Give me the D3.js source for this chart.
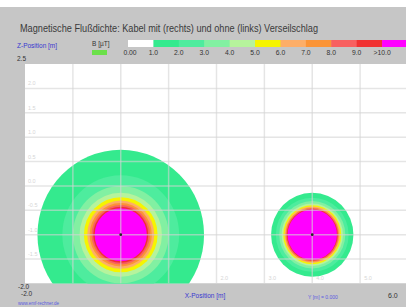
<!DOCTYPE html>
<html>
<head>
<meta charset="utf-8">
<script src="https://cdn.jsdelivr.net/npm/d3@7"></script>
<style>
  body { margin: 0; background: #c6c6c6; }
  svg { display: block; font-family: "Liberation Sans", Arial, sans-serif; }
</style>
</head>
<body>
<div id="chart"></div>
<script>
// Legende: Grenzen und Farben
const legendLabels = ["0.00", "1.0", "2.0", "3.0", "4.0", "5.0", "6.0", "7.0", "8.0", "9.0", ">10.0"];
const bandColors = ["#ffffff", "#34ea8e", "#4eec9e", "#82f0a2", "#b6f39c", "#f6f400",
                    "#fdae68", "#fb9436", "#f86060", "#f03232", "#ff00ff"];

// Kabelpositionen [m]
const cableNames = ["ohne", "mit"];
const cableX = [0, 4];
const cableZ = [-1, -1];
// Radius der Isolinien B = 1 ... 10 µT [m]
const radiiOhne = [1.74, 1.22, 1.0, 0.86, 0.77, 0.70, 0.65, 0.61, 0.575, 0.545];
const radiiMit  = [0.86, 0.76, 0.69, 0.64, 0.605, 0.58, 0.56, 0.545, 0.53, 0.515];

// Achsen
const xTicks = [-1, 0, 1, 2, 3, 4, 5];
const zTicks = [2.0, 1.5, 1.0, 0.5, 0.0, -0.5, -1.0, -1.5];

const width = 406, height = 307;

const svg = d3.select("#chart").append("svg")
  .attr("width", width)
  .attr("height", height);

svg.append("rect").attr("width", width).attr("height", height).attr("fill", "#c6c6c6");
svg.append("rect").attr("width", width).attr("height", 7).attr("fill", "#ffffff");

// Titel
svg.append("text")
  .attr("x", 20).attr("y", 32)
  .attr("font-size", 10.5)
  .attr("fill", "#3a3a3a")
  .attr("textLength", 298)
  .attr("lengthAdjust", "spacingAndGlyphs")
  .text("Magnetische Flußdichte: Kabel mit (rechts) und ohne (links) Verseilschlag");

// Farblegende
const legendX = d3.scaleLinear().domain([0, 11]).range([128, 407.5]);
svg.append("g")
  .selectAll("rect")
  .data(bandColors)
  .join("rect")
  .attr("x", (d, i) => legendX(i))
  .attr("y", 40)
  .attr("width", (d, i) => legendX(i + 1) - legendX(i) + 0.5)
  .attr("height", 7)
  .attr("fill", d => d);

svg.append("g")
  .selectAll("text")
  .data(legendLabels)
  .join("text")
  .attr("x", (d, i) => legendX(i) + (i === 0 ? 2 : 0))
  .attr("y", 55)
  .attr("text-anchor", "middle")
  .attr("font-size", 6.8)
  .attr("fill", "#333")
  .text(d => d);

svg.append("text").attr("x", 17).attr("y", 48).attr("font-size", 6.5)
  .attr("fill", "#3838d0").text("Z-Position [m]");
svg.append("text").attr("x", 92).attr("y", 46).attr("font-size", 6.5)
  .attr("fill", "#333").text("B [µT]");
svg.append("rect").attr("x", 92).attr("y", 50).attr("width", 15).attr("height", 5)
  .attr("fill", "#6be04a");
svg.append("text").attr("x", 17).attr("y", 61).attr("font-size", 6.5)
  .attr("fill", "#333").text("2.5");

// Diagramm
const x = d3.scaleLinear().domain([-2, 6]).range([25, 408]);
const y = d3.scaleLinear().domain([-2, 2.5]).range([283.5, 64]);

svg.append("clipPath").attr("id", "plot-clip")
  .append("rect")
  .attr("x", x(-2)).attr("y", y(2.5))
  .attr("width", x(6) - x(-2)).attr("height", y(-2) - y(2.5));

const plot = svg.append("g").attr("clip-path", "url(#plot-clip)");

plot.append("rect")
  .attr("x", x(-2)).attr("y", y(2.5))
  .attr("width", x(6) - x(-2)).attr("height", y(-2) - y(2.5))
  .attr("fill", "#ffffff");

// schwache Achsbeschriftung im Diagramm
plot.append("g")
  .selectAll("text")
  .data(zTicks)
  .join("text")
  .attr("x", 28)
  .attr("y", d => y(d) - 3)
  .attr("font-size", 5.5)
  .attr("fill", "#d6d6d6")
  .text(d => d.toFixed(1));

plot.append("g")
  .selectAll("text")
  .data(xTicks)
  .join("text")
  .attr("x", d => x(d) + 4)
  .attr("y", 280)
  .attr("font-size", 5.5)
  .attr("fill", "#d6d6d6")
  .text(d => d.toFixed(1));

// Isolinien-Flächen
const cables = cableNames.map((name, i) => ({
  name, cx: cableX[i], cz: cableZ[i], radii: i === 0 ? radiiOhne : radiiMit
}));

cables.forEach(c => {
  const g = plot.append("g");
  g.selectAll("ellipse")
    .data(c.radii.map((r, k) => ({ r, color: bandColors[k + 1] })))
    .join("ellipse")
    .attr("cx", x(c.cx))
    .attr("cy", y(c.cz))
    .attr("rx", d => x(c.cx + d.r) - x(c.cx))
    .attr("ry", d => y(c.cz - d.r) - y(c.cz))
    .attr("fill", d => d.color);
});

// Gitter
const grid = plot.append("g")
  .attr("stroke", "#d4d4d4")
  .attr("stroke-opacity", 0.6)
  .attr("stroke-width", 1.5);
grid.selectAll("line.v")
  .data(xTicks)
  .join("line")
  .attr("class", "v")
  .attr("x1", d => x(d)).attr("x2", d => x(d))
  .attr("y1", y(2.5)).attr("y2", y(-2));
grid.selectAll("line.h")
  .data(zTicks)
  .join("line")
  .attr("class", "h")
  .attr("x1", x(-2)).attr("x2", x(6))
  .attr("y1", d => y(d)).attr("y2", d => y(d));

// Kabelmittelpunkte
plot.append("g")
  .selectAll("circle")
  .data(cables)
  .join("circle")
  .attr("cx", d => x(d.cx))
  .attr("cy", d => y(d.cz))
  .attr("r", 1.4)
  .attr("fill", "#222");

// untere Beschriftung
svg.append("text").attr("x", 18).attr("y", 289).attr("font-size", 6.5)
  .attr("fill", "#333").text("-2.0");
svg.append("text").attr("x", 21).attr("y", 296).attr("font-size", 6.5)
  .attr("fill", "#333").text("-2.0");
svg.append("text").attr("x", 205).attr("y", 298).attr("font-size", 6.5)
  .attr("text-anchor", "middle").attr("fill", "#3838d0").text("X-Position [m]");
svg.append("text").attr("x", 308).attr("y", 299).attr("font-size", 5)
  .attr("fill", "#5a5ae0").text("Y [m] = 0.000");
svg.append("text").attr("x", 388).attr("y", 298).attr("font-size", 7)
  .attr("fill", "#333").text("6.0");
svg.append("text").attr("x", 18).attr("y", 305).attr("font-size", 4.5)
  .attr("fill", "#5a5ae0").text("www.emf-rechner.de");
</script>
</body>
</html>
